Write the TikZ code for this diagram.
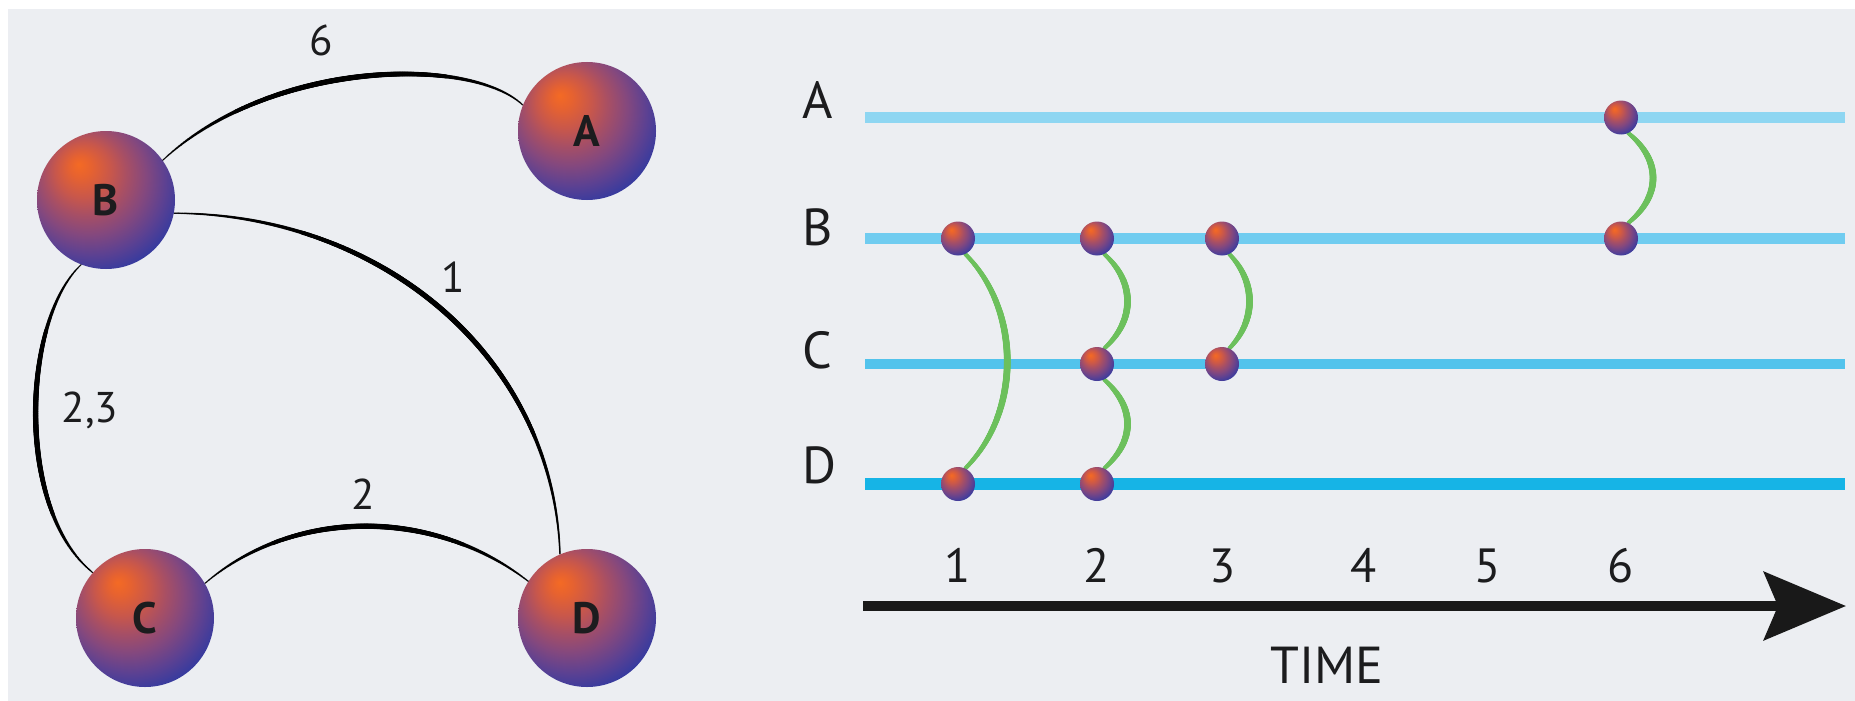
\documentclass[tikz,border=0pt]{standalone}
\usepackage{fontspec}
\setmainfont{PT Sans}
\usetikzlibrary{arrows.meta,decorations.markings}
\definecolor{panel}{RGB}{236,238,242}
\definecolor{txt}{RGB}{28,28,30}
\definecolor{lineA}{RGB}{142,214,242}
\definecolor{lineB}{RGB}{112,204,240}
\definecolor{lineC}{RGB}{82,195,236}
\definecolor{lineD}{RGB}{22,180,230}
\definecolor{linkgreen}{RGB}{108,192,92}
\definecolor{ballS0}{RGB}{244,106,36}
\definecolor{ballS1}{RGB}{230,98,48}
\definecolor{ballS2}{RGB}{200,87,75}
\definecolor{ballS3}{RGB}{168,79,100}
\definecolor{ballS4}{RGB}{132,72,126}
\definecolor{ballS5}{RGB}{92,65,146}
\definecolor{ballS6}{RGB}{50,58,160}
\pgfdeclareradialshading{ballshade}{\pgfpoint{-10bp}{13bp}}{color(0bp)=(ballS0); color(4bp)=(ballS1); color(10bp)=(ballS2); color(15bp)=(ballS3); color(21bp)=(ballS4); color(27bp)=(ballS5); color(33bp)=(ballS6); color(60bp)=(ballS6)}
\pgfdeclarelayer{back}
\pgfdeclarelayer{mid}
\pgfsetlayers{back,mid,main}
\tikzset{
  taper/.style n args={3}{decoration={markings,
    mark=between positions 0 and 1 step 0.7pt with {%
      \pgfmathsetmacro\tposfrac{\pgfkeysvalueof{/pgf/decoration/mark info/distance from start}/\pgfdecoratedpathlength}%
      \pgfmathsetmacro\tradius{#2+#3*sin(180*\tposfrac)}%
      \fill[#1] (0,0) circle[radius=\tradius pt];}}, decorate},
  ball/.style={circle, minimum size=138pt, inner sep=0pt, shading=ballshade,
    font=\bfseries\fontsize{44}{44}\selectfont, text=txt},
  tdot/.style={circle, minimum size=34pt, inner sep=0pt, shading=ballshade},
  edgelbl/.style={anchor=base, text=txt, font=\fontsize{43}{43}\selectfont, inner sep=0pt},
  rowlbl/.style={anchor=base west, text=txt, font=\fontsize{52}{52}\selectfont, inner sep=0pt},
  ticklbl/.style={anchor=base, text=txt, font=\fontsize{48}{48}\selectfont, inner sep=0pt},
  rowline/.style={line width=#1},
  axis/.style={line width=10pt, draw=black!90, -{Stealth[length=82pt, width=68pt, inset=14pt]}}
}
\begin{document}
\begin{tikzpicture}[x=1pt, y=-1pt]
\useasboundingbox (0,0) rectangle (1855,701);
\begin{pgfonlayer}{back}
\fill[white] (0,0) rectangle (1855,701);
\fill[panel] (8,9) rectangle (1855,701);
\end{pgfonlayer}

% ---------- left graph ----------
\node[ball] (A) at (587,131) {A};
\node[ball] (B) at (106,200) {B};
\node[ball] (C) at (145,618) {C};
\node[ball] (D) at (587,618) {D};

\begin{pgfonlayer}{mid}
\path[taper={black}{0.7}{2.0}] (B.35) .. controls (270,60) and (470,55) .. (A.158);
\path[taper={black}{0.7}{2.0}] (B.-11) .. controls (386,214) and (554,361) .. (D.113);
\path[taper={black}{0.7}{2.0}] (B.-111) .. controls (22,320) and (15,510) .. (C.139);
\path[taper={black}{0.7}{2.0}] (C.30) .. controls (290,510) and (430,505) .. (D.148);
\end{pgfonlayer}

\node[edgelbl] (l6) at (321,56) {6};
\node[edgelbl] (l1) at (453,292) {1};
\node[edgelbl] (l23) at (90,422) {2,3};
\node[edgelbl] (l2) at (363,509) {2};

% ---------- right timeline ----------
\coordinate (rA0) at (865,117.5); \coordinate (rA1) at (1845,117.5);
\coordinate (rB0) at (865,238.5); \coordinate (rB1) at (1845,238.5);
\coordinate (rC0) at (865,364);   \coordinate (rC1) at (1845,364);
\coordinate (rD0) at (865,484);   \coordinate (rD1) at (1845,484);

\node[rowlbl] (labA) at (802,118) {A};
\node[rowlbl] (labB) at (802,245) {B};
\node[rowlbl] (labC) at (802,368) {C};
\node[rowlbl] (labD) at (802,483) {D};

\node[tdot] (a6) at (1621,117.5) {};
\node[tdot] (b1) at (958,238.5) {};
\node[tdot] (b2) at (1097,238.5) {};
\node[tdot] (b3) at (1222,238.5) {};
\node[tdot] (b6) at (1621,238.5) {};
\node[tdot] (c2) at (1097,364) {};
\node[tdot] (c3) at (1222,364) {};
\node[tdot] (d1) at (958,484) {};
\node[tdot] (d2) at (1097,484) {};

\begin{pgfonlayer}{mid}
\draw[rowline=11pt, lineA] (rA0) -- (rA1);
\draw[rowline=11pt, lineB] (rB0) -- (rB1);
\draw[rowline=10pt, lineC] (rC0) -- (rC1);
\draw[rowline=12pt, lineD] (rD0) -- (rD1);
\path[taper={linkgreen}{2.0}{1.4}] (b1.-65) .. controls +(56,56) and +(56,-56) .. (d1.65);
\path[taper={linkgreen}{2.0}{1.4}] (b2.-65) .. controls +(31,28) and +(31,-28) .. (c2.65);
\path[taper={linkgreen}{2.0}{1.4}] (c2.-65) .. controls +(31,28) and +(31,-28) .. (d2.65);
\path[taper={linkgreen}{2.0}{1.4}] (b3.-65) .. controls +(27,28) and +(27,-28) .. (c3.65);
\path[taper={linkgreen}{2.0}{1.4}] (a6.-65) .. controls +(33,27) and +(33,-27) .. (b6.65);
\end{pgfonlayer}

% ---------- time axis ----------
\coordinate (ax0) at (863,606);
\coordinate (ax1) at (1846,606);
\draw[axis] (ax0) -- (ax1);

\node[ticklbl] (t1) at (958,582) {1};
\node[ticklbl] (t2) at (1097,582) {2};
\node[ticklbl] (t3) at (1223,582) {3};
\node[ticklbl] (t4) at (1364,582) {4};
\node[ticklbl] (t5) at (1488,582) {5};
\node[ticklbl] (t6) at (1621,582) {6};
\node[rowlbl, anchor=base] (time) at (1327,683) {TIME};
\end{tikzpicture}
\end{document}
